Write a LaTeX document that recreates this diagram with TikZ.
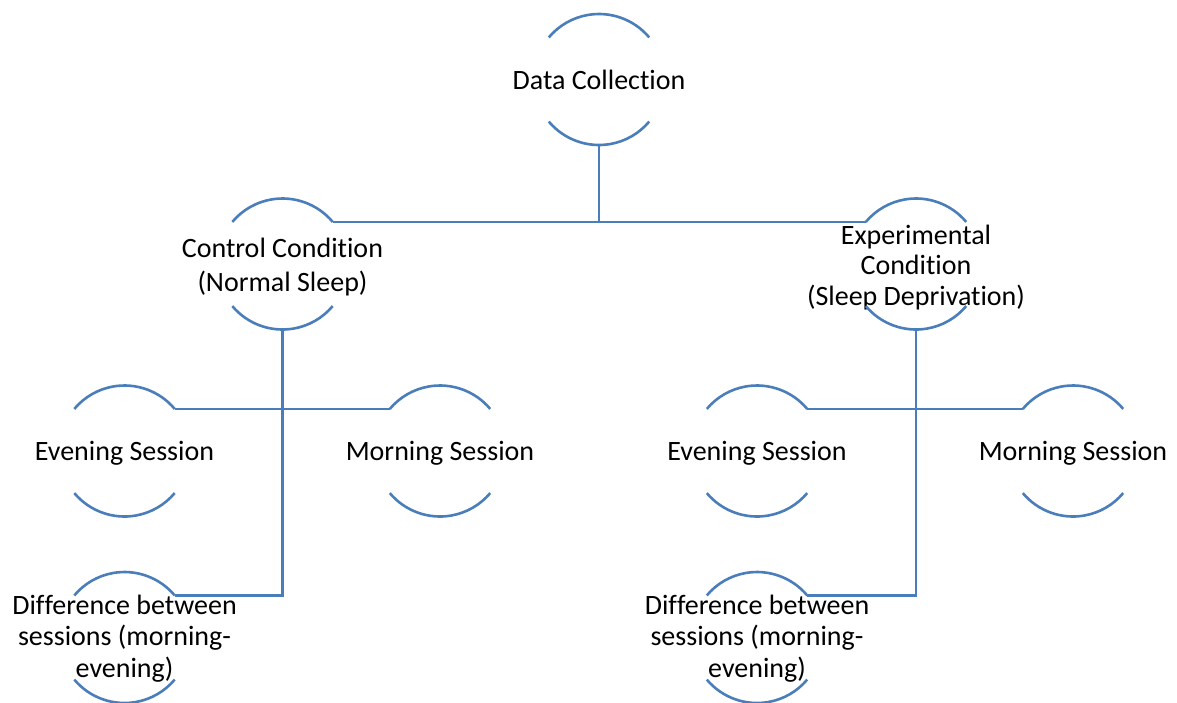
\documentclass[tikz,border=0pt]{standalone}
\usepackage{fontspec}
\setmainfont{Carlito}[RawFeature={-liga;-clig;-calt;-dlig}]
\definecolor{linkblue}{HTML}{4A7EBB}
% keeps letter pairs such as t+i and f+f apart
\newcommand{\nolig}{\kern0pt}
\begin{document}
\begin{tikzpicture}[x=1pt,y=1pt,
  lbl/.style={align=center, inner sep=0pt, text=black,
    font=\fontsize{28}{30.5}\selectfont},
  link/.style={draw=linkblue, line width=2.6pt},
]
\useasboundingbox (0,0) rectangle (1177,-702);

% circle centres
\coordinate (dc-c) at (599,-79.5);
\coordinate (cc-c) at (282.5,-264);
\coordinate (ec-c) at (916,-264);
\coordinate (el-c) at (124.5,-451);
\coordinate (ml-c) at (440,-451);
\coordinate (dl-c) at (124.5,-637.5);
\coordinate (er-c) at (757,-451);
\coordinate (mr-c) at (1073,-451);
\coordinate (dr-c) at (757,-637.5);

% labels, each set inside its open circle
\node[lbl] (dc) at (dc-c) {Data Collect\nolig ion};
\node[lbl, font=\fontsize{28}{33.3}\selectfont] (cc) at ([yshift=-3]cc-c)
  {Control Condit\nolig ion\\(Normal Sleep)};
\node[lbl] (ec) at ([yshift=-3.5]ec-c)
  {Experimental\\Condit\nolig ion\\(Sleep Deprivat\nolig ion)};
\node[lbl] (el) at ([yshift=-2]el-c) {Evening Session};
\node[lbl] (ml) at ([yshift=-2]ml-c) {Morning Session};
\node[lbl, font=\fontsize{28}{31.4}\selectfont] (dl) at ([yshift=-1]dl-c)
  {Dif\nolig ference between\\sessions (morning-\\evening)};
\node[lbl] (er) at ([yshift=-2]er-c) {Evening Session};
\node[lbl] (mr) at ([yshift=-2]mr-c) {Morning Session};
\node[lbl, font=\fontsize{28}{31.4}\selectfont] (dr) at ([yshift=-1]dr-c)
  {Dif\nolig ference between\\sessions (morning-\\evening)};

% top and bottom arcs of every circle, plus the points the links attach to
\def\rr{65.5}
\foreach \n in {dc,cc,ec,el,ml,dl,er,mr,dr} {
  \draw[link] ([shift={(40:\rr)}]\n-c) arc[start angle=40, end angle=140, radius=\rr];
  \draw[link] ([shift={(220:\rr)}]\n-c) arc[start angle=220, end angle=320, radius=\rr];
  \coordinate (\n-tl) at ([shift={(140:\rr)}]\n-c);
  \coordinate (\n-tr) at ([shift={(40:\rr)}]\n-c);
  \coordinate (\n-b) at ([yshift=-\rr pt]\n-c);
}

% hierarchy links
\draw[link] (dc-b) -- (dc-b |- cc-tr);
\draw[link] (cc-tr) -- (ec-tl);
\draw[link] (cc-b) |- (dl-tr);
\draw[link] (el-tr) -- (ml-tl);
\draw[link] (ec-b) |- (dr-tr);
\draw[link] (er-tr) -- (mr-tl);
\end{tikzpicture}
\end{document}
